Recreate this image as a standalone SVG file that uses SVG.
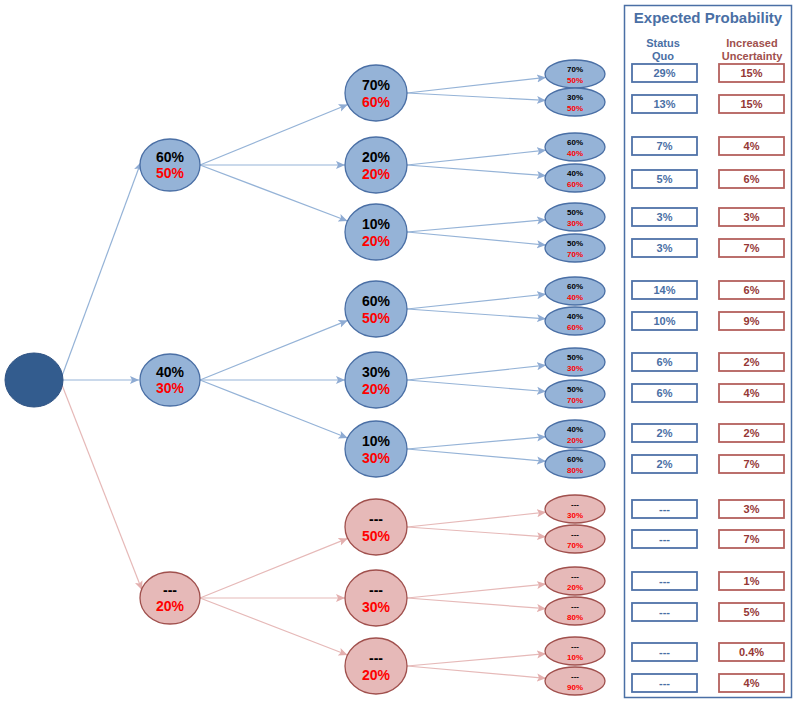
<svg xmlns="http://www.w3.org/2000/svg" width="797" height="702" viewBox="0 0 797 702">
<defs>
<marker id="ab" markerUnits="userSpaceOnUse" markerWidth="10" markerHeight="10" viewBox="0 0 10 10" refX="9" refY="5" orient="auto"><path d="M0,1 L9,5 L0,9 L2,5 Z" fill="#8EABD3"/></marker>
<marker id="ar" markerUnits="userSpaceOnUse" markerWidth="10" markerHeight="10" viewBox="0 0 10 10" refX="9" refY="5" orient="auto"><path d="M0,1 L9,5 L0,9 L2,5 Z" fill="#E3AFAE"/></marker>
</defs>
<style>
text{font-family:"Liberation Sans",Arial,sans-serif;font-weight:bold;text-anchor:middle}
.bn{fill:#95B3D7;stroke:#4A6FA5;stroke-width:1.3}
.rn{fill:#E6B9B8;stroke:#A0504D;stroke-width:1.3}
.big{font-size:14px}
.sm{font-size:8px}
.k{fill:#000}
.r{fill:#FF0000}
.lb{stroke:#95B3D7;stroke-width:1.2;fill:none;marker-end:url(#ab)}
.lr{stroke:#E6B9B8;stroke-width:1.2;fill:none;marker-end:url(#ar)}
.cb{fill:#fff;stroke:#4F72A8;stroke-width:1.8}
.cr{fill:#fff;stroke:#B4605D;stroke-width:1.8}
.tb{fill:#4A6FA5;font-size:11px}
.tr{fill:#953735;font-size:11px}
</style>
<g id="connectors">
<line class="lb" x1="62" y1="376" x2="141" y2="162"/>
<line class="lb" x1="63" y1="380" x2="139" y2="380"/>
<line class="lr" x1="62" y1="385" x2="142" y2="590"/>
<line class="lb" x1="200" y1="165" x2="347.8" y2="104.5"/>
<line class="lb" x1="200" y1="165" x2="345" y2="165"/>
<line class="lb" x1="200" y1="165" x2="347.5" y2="221"/>
<line class="lb" x1="200" y1="380" x2="347.7" y2="320.4"/>
<line class="lb" x1="200" y1="380" x2="345" y2="380"/>
<line class="lb" x1="200" y1="380" x2="347.6" y2="438"/>
<line class="lr" x1="200" y1="598" x2="347.7" y2="538.4"/>
<line class="lr" x1="200" y1="598" x2="345" y2="598"/>
<line class="lr" x1="200" y1="598" x2="347.5" y2="655"/>
<line class="lb" x1="407" y1="93" x2="546" y2="77.4"/>
<line class="lb" x1="407" y1="93" x2="546" y2="100.4"/>
<line class="lb" x1="407" y1="165" x2="546" y2="150.2"/>
<line class="lb" x1="407" y1="165" x2="546" y2="175.7"/>
<line class="lb" x1="407" y1="232" x2="546" y2="219.7"/>
<line class="lb" x1="407" y1="232" x2="546" y2="245.1"/>
<line class="lb" x1="407" y1="309" x2="546" y2="294.2"/>
<line class="lb" x1="407" y1="309" x2="546" y2="318.8"/>
<line class="lb" x1="407" y1="380" x2="546" y2="365.2"/>
<line class="lb" x1="407" y1="380" x2="546" y2="391.5"/>
<line class="lb" x1="407" y1="449" x2="546" y2="436.7"/>
<line class="lb" x1="407" y1="449" x2="546" y2="461.3"/>
<line class="lr" x1="407" y1="527" x2="546" y2="512.2"/>
<line class="lr" x1="407" y1="527" x2="546" y2="536.8"/>
<line class="lr" x1="407" y1="598" x2="546" y2="584.1"/>
<line class="lr" x1="407" y1="598" x2="546" y2="608.7"/>
<line class="lr" x1="407" y1="666" x2="546" y2="653.7"/>
<line class="lr" x1="407" y1="666" x2="546" y2="678.3"/>
</g>
<g id="root"><ellipse cx="34" cy="380" rx="29" ry="27" fill="#335C8E" stroke="#2E5283" stroke-width="1"/></g>
<g id="n1a"><ellipse class="bn" cx="170" cy="165" rx="30" ry="26"/><text class="big k" x="170" y="162">60%</text><text class="big r" x="170" y="178">50%</text></g>
<g id="n1b"><ellipse class="bn" cx="170" cy="380" rx="30" ry="26"/><text class="big k" x="170" y="377">40%</text><text class="big r" x="170" y="393">30%</text></g>
<g id="n1c"><ellipse class="rn" cx="170" cy="598" rx="30" ry="26"/><text class="big k" x="170" y="595">---</text><text class="big r" x="170" y="611">20%</text></g>
<g id="n2a"><ellipse class="bn" cx="376" cy="93" rx="31" ry="28"/><text class="big k" x="376" y="90">70%</text><text class="big r" x="376" y="107">60%</text></g>
<g id="n2b"><ellipse class="bn" cx="376" cy="165" rx="31" ry="28"/><text class="big k" x="376" y="162">20%</text><text class="big r" x="376" y="179">20%</text></g>
<g id="n2c"><ellipse class="bn" cx="376" cy="232" rx="31" ry="28"/><text class="big k" x="376" y="229">10%</text><text class="big r" x="376" y="246">20%</text></g>
<g id="n2d"><ellipse class="bn" cx="376" cy="309" rx="31" ry="28"/><text class="big k" x="376" y="306">60%</text><text class="big r" x="376" y="323">50%</text></g>
<g id="n2e"><ellipse class="bn" cx="376" cy="380" rx="31" ry="28"/><text class="big k" x="376" y="377">30%</text><text class="big r" x="376" y="394">20%</text></g>
<g id="n2f"><ellipse class="bn" cx="376" cy="449" rx="31" ry="28"/><text class="big k" x="376" y="446">10%</text><text class="big r" x="376" y="463">30%</text></g>
<g id="n2g"><ellipse class="rn" cx="376" cy="527" rx="31" ry="28"/><text class="big k" x="376" y="524">---</text><text class="big r" x="376" y="541">50%</text></g>
<g id="n2h"><ellipse class="rn" cx="376" cy="598" rx="31" ry="28"/><text class="big k" x="376" y="595">---</text><text class="big r" x="376" y="612">30%</text></g>
<g id="n2i"><ellipse class="rn" cx="376" cy="666" rx="31" ry="28"/><text class="big k" x="376" y="663">---</text><text class="big r" x="376" y="680">20%</text></g>
<g id="l01"><ellipse class="bn" cx="575" cy="74" rx="30" ry="14"/><text class="sm k" x="575" y="72">70%</text><text class="sm r" x="575" y="83">50%</text></g>
<g id="l02"><ellipse class="bn" cx="575" cy="102" rx="30" ry="14"/><text class="sm k" x="575" y="100">30%</text><text class="sm r" x="575" y="111">50%</text></g>
<g id="l03"><ellipse class="bn" cx="575" cy="147" rx="30" ry="14"/><text class="sm k" x="575" y="145">60%</text><text class="sm r" x="575" y="156">40%</text></g>
<g id="l04"><ellipse class="bn" cx="575" cy="178" rx="30" ry="14"/><text class="sm k" x="575" y="176">40%</text><text class="sm r" x="575" y="187">60%</text></g>
<g id="l05"><ellipse class="bn" cx="575" cy="217" rx="30" ry="14"/><text class="sm k" x="575" y="215">50%</text><text class="sm r" x="575" y="226">30%</text></g>
<g id="l06"><ellipse class="bn" cx="575" cy="248" rx="30" ry="14"/><text class="sm k" x="575" y="246">50%</text><text class="sm r" x="575" y="257">70%</text></g>
<g id="l07"><ellipse class="bn" cx="575" cy="291" rx="30" ry="14"/><text class="sm k" x="575" y="289">60%</text><text class="sm r" x="575" y="300">40%</text></g>
<g id="l08"><ellipse class="bn" cx="575" cy="321" rx="30" ry="14"/><text class="sm k" x="575" y="319">40%</text><text class="sm r" x="575" y="330">60%</text></g>
<g id="l09"><ellipse class="bn" cx="575" cy="362" rx="30" ry="14"/><text class="sm k" x="575" y="360">50%</text><text class="sm r" x="575" y="371">30%</text></g>
<g id="l10"><ellipse class="bn" cx="575" cy="394" rx="30" ry="14"/><text class="sm k" x="575" y="392">50%</text><text class="sm r" x="575" y="403">70%</text></g>
<g id="l11"><ellipse class="bn" cx="575" cy="434" rx="30" ry="14"/><text class="sm k" x="575" y="432">40%</text><text class="sm r" x="575" y="443">20%</text></g>
<g id="l12"><ellipse class="bn" cx="575" cy="464" rx="30" ry="14"/><text class="sm k" x="575" y="462">60%</text><text class="sm r" x="575" y="473">80%</text></g>
<g id="l13"><ellipse class="rn" cx="575" cy="509" rx="30" ry="14"/><text class="sm k" x="575" y="507">---</text><text class="sm r" x="575" y="518">30%</text></g>
<g id="l14"><ellipse class="rn" cx="575" cy="539" rx="30" ry="14"/><text class="sm k" x="575" y="537">---</text><text class="sm r" x="575" y="548">70%</text></g>
<g id="l15"><ellipse class="rn" cx="575" cy="581" rx="30" ry="14"/><text class="sm k" x="575" y="579">---</text><text class="sm r" x="575" y="590">20%</text></g>
<g id="l16"><ellipse class="rn" cx="575" cy="611" rx="30" ry="14"/><text class="sm k" x="575" y="609">---</text><text class="sm r" x="575" y="620">80%</text></g>
<g id="l17"><ellipse class="rn" cx="575" cy="651" rx="30" ry="14"/><text class="sm k" x="575" y="649">---</text><text class="sm r" x="575" y="660">10%</text></g>
<g id="l18"><ellipse class="rn" cx="575" cy="681" rx="30" ry="14"/><text class="sm k" x="575" y="679">---</text><text class="sm r" x="575" y="690">90%</text></g>
<g id="table">
<rect x="624.5" y="5.5" width="167" height="692" fill="#fff" stroke="#4A6FA5" stroke-width="1.5"/>
<text x="708" y="23" fill="#4A6FA5" font-size="15">Expected Probability</text>
<text x="663" y="47" fill="#4A6FA5" font-size="11">Status</text>
<text x="663" y="60" fill="#4A6FA5" font-size="11">Quo</text>
<text x="752" y="47" fill="#A0504D" font-size="11">Increased</text>
<text x="752" y="60" fill="#A0504D" font-size="11">Uncertainty</text>
<g id="r01"><rect class="cb" x="632" y="64" width="65" height="18"/><text class="tb" x="664.5" y="77">29%</text><rect class="cr" x="719" y="64" width="65" height="18"/><text class="tr" x="751.5" y="77">15%</text></g>
<g id="r02"><rect class="cb" x="632" y="95" width="65" height="18"/><text class="tb" x="664.5" y="108">13%</text><rect class="cr" x="719" y="95" width="65" height="18"/><text class="tr" x="751.5" y="108">15%</text></g>
<g id="r03"><rect class="cb" x="632" y="137" width="65" height="18"/><text class="tb" x="664.5" y="150">7%</text><rect class="cr" x="719" y="137" width="65" height="18"/><text class="tr" x="751.5" y="150">4%</text></g>
<g id="r04"><rect class="cb" x="632" y="170" width="65" height="18"/><text class="tb" x="664.5" y="183">5%</text><rect class="cr" x="719" y="170" width="65" height="18"/><text class="tr" x="751.5" y="183">6%</text></g>
<g id="r05"><rect class="cb" x="632" y="208" width="65" height="18"/><text class="tb" x="664.5" y="221">3%</text><rect class="cr" x="719" y="208" width="65" height="18"/><text class="tr" x="751.5" y="221">3%</text></g>
<g id="r06"><rect class="cb" x="632" y="239" width="65" height="18"/><text class="tb" x="664.5" y="252">3%</text><rect class="cr" x="719" y="239" width="65" height="18"/><text class="tr" x="751.5" y="252">7%</text></g>
<g id="r07"><rect class="cb" x="632" y="281" width="65" height="18"/><text class="tb" x="664.5" y="294">14%</text><rect class="cr" x="719" y="281" width="65" height="18"/><text class="tr" x="751.5" y="294">6%</text></g>
<g id="r08"><rect class="cb" x="632" y="312" width="65" height="18"/><text class="tb" x="664.5" y="325">10%</text><rect class="cr" x="719" y="312" width="65" height="18"/><text class="tr" x="751.5" y="325">9%</text></g>
<g id="r09"><rect class="cb" x="632" y="353" width="65" height="18"/><text class="tb" x="664.5" y="366">6%</text><rect class="cr" x="719" y="353" width="65" height="18"/><text class="tr" x="751.5" y="366">2%</text></g>
<g id="r10"><rect class="cb" x="632" y="384" width="65" height="18"/><text class="tb" x="664.5" y="397">6%</text><rect class="cr" x="719" y="384" width="65" height="18"/><text class="tr" x="751.5" y="397">4%</text></g>
<g id="r11"><rect class="cb" x="632" y="424" width="65" height="18"/><text class="tb" x="664.5" y="437">2%</text><rect class="cr" x="719" y="424" width="65" height="18"/><text class="tr" x="751.5" y="437">2%</text></g>
<g id="r12"><rect class="cb" x="632" y="455" width="65" height="18"/><text class="tb" x="664.5" y="468">2%</text><rect class="cr" x="719" y="455" width="65" height="18"/><text class="tr" x="751.5" y="468">7%</text></g>
<g id="r13"><rect class="cb" x="632" y="500" width="65" height="18"/><text class="tb" x="664.5" y="513">---</text><rect class="cr" x="719" y="500" width="65" height="18"/><text class="tr" x="751.5" y="513">3%</text></g>
<g id="r14"><rect class="cb" x="632" y="530" width="65" height="18"/><text class="tb" x="664.5" y="543">---</text><rect class="cr" x="719" y="530" width="65" height="18"/><text class="tr" x="751.5" y="543">7%</text></g>
<g id="r15"><rect class="cb" x="632" y="572" width="65" height="18"/><text class="tb" x="664.5" y="585">---</text><rect class="cr" x="719" y="572" width="65" height="18"/><text class="tr" x="751.5" y="585">1%</text></g>
<g id="r16"><rect class="cb" x="632" y="603" width="65" height="18"/><text class="tb" x="664.5" y="616">---</text><rect class="cr" x="719" y="603" width="65" height="18"/><text class="tr" x="751.5" y="616">5%</text></g>
<g id="r17"><rect class="cb" x="632" y="643" width="65" height="18"/><text class="tb" x="664.5" y="656">---</text><rect class="cr" x="719" y="643" width="65" height="18"/><text class="tr" x="751.5" y="656">0.4%</text></g>
<g id="r18"><rect class="cb" x="632" y="674" width="65" height="18"/><text class="tb" x="664.5" y="687">---</text><rect class="cr" x="719" y="674" width="65" height="18"/><text class="tr" x="751.5" y="687">4%</text></g>
</g>
</svg>
